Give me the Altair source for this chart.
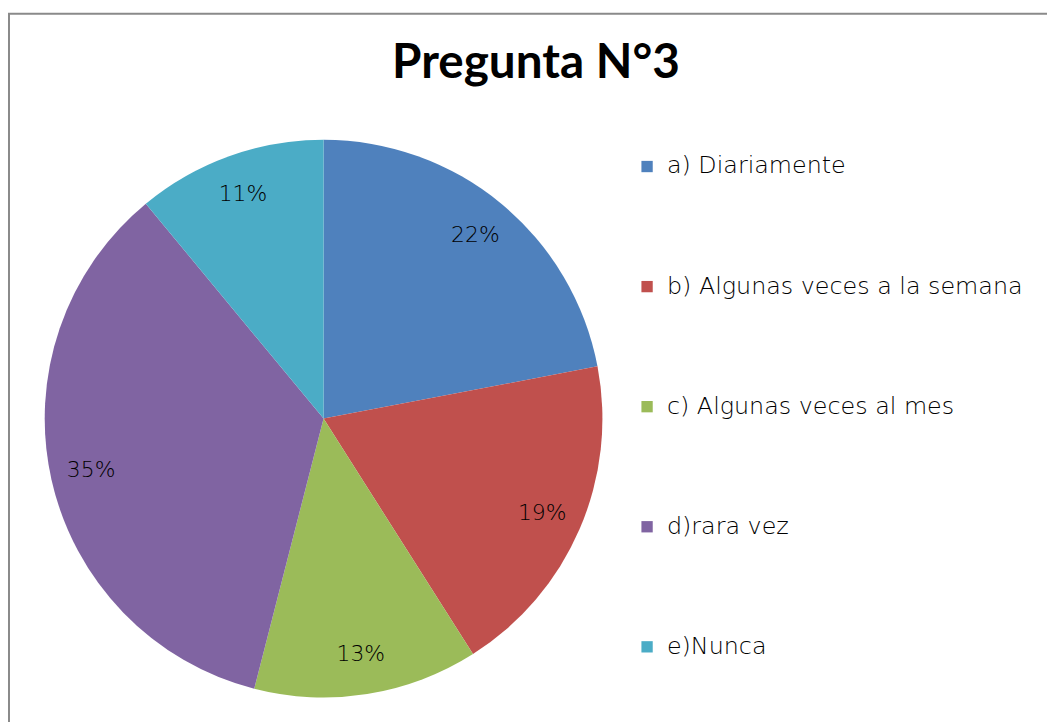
import altair as alt
import pandas as pd

categories = ["a) Diariamente", "b) Algunas veces a la semana", "c) Algunas veces al mes", "d)rara vez", "e)Nunca"]
values = [22, 19, 13, 35, 11]
labels = ["22%", "19%", "13%", "35%", "11%"]
colors = ["#4F81BD", "#C0504D", "#9BBB59", "#8064A2", "#4BACC6"]

df = pd.DataFrame({"cat": categories, "val": values, "lab": labels, "ord": list(range(len(values)))})

FONT = "DejaVu Sans"
CX, CY, R = 318, 411, 281

base = alt.Chart(df).encode(
    theta=alt.Theta("val:Q", stack=True),
    order=alt.Order("ord:Q"),
)

pie = base.mark_arc(radius=R, stroke=None).encode(
    x=alt.value(CX), y=alt.value(CY),
    color=alt.Color("cat:N", sort=categories,
                    scale=alt.Scale(domain=categories, range=colors),
                    legend=alt.Legend(title=None, orient="none", legendX=632, legendY=145,
                                      symbolType="square", symbolSize=130, symbolStrokeWidth=0,
                                      labelFont=FONT, labelFontWeight=200, labelFontSize=24,
                                      labelColor="#000",
                                      rowPadding=97, labelOffset=8, labelLimit=500)),
)

txt = base.mark_text(radius=240, font=FONT, fontWeight=200, fontSize=22, color="#000").encode(
    x=alt.value(CX), y=alt.value(CY), text="lab:N"
)

title = alt.Chart(pd.DataFrame({"t": ["Pregunta N°3"]})).mark_text(
    font="Lato", fontSize=48, fontWeight="bold", color="#000", baseline="middle", align="center"
).encode(x=alt.value(532), y=alt.value(54), text="t:N")

border = alt.Chart(pd.DataFrame({"a": [0]})).mark_rect(
    fill=None, stroke="#8a8a8a", strokeWidth=2
).encode(x=alt.value(1), y=alt.value(3), x2=alt.value(1100), y2=alt.value(800))

chart = alt.layer(border, pie, txt, title).properties(
    width=1047, height=714, autosize=alt.AutoSizeParams(type="none"), padding=0
).configure_view(stroke=None)

chart.save("out.html", embed_options={"renderer": "svg", "actions": False})
